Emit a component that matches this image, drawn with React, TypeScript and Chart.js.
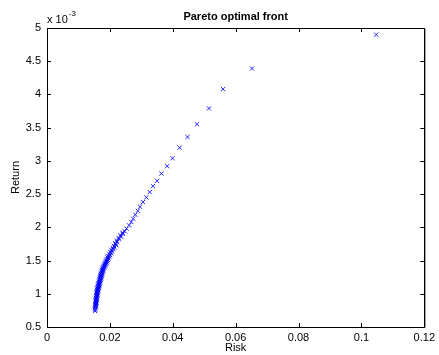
import React, { useEffect, useRef } from "react";
import { Chart, registerables } from "chart.js";

Chart.register(...registerables);

// Risk (x) and Return (y, in units of 1e-3)
const risk = [
  0.1047, 0.0652, 0.056, 0.0515, 0.0477, 0.0447, 0.0422, 0.0399, 0.0382, 0.0364,
  0.035, 0.0337, 0.0327, 0.0316, 0.0305, 0.0296, 0.0289, 0.0281, 0.0274, 0.0268,
  0.0261, 0.0253, 0.0247, 0.0241, 0.0235, 0.0229, 0.0223, 0.0218, 0.0213, 0.0209,
  0.0205, 0.0201, 0.0198, 0.0195, 0.0192, 0.019, 0.0188, 0.0186, 0.0184, 0.0182,
  0.018, 0.0178, 0.0177, 0.0175, 0.0174, 0.0172, 0.0171, 0.017, 0.0169, 0.0168,
  0.0167, 0.0166, 0.0165, 0.0164, 0.0163, 0.0162, 0.0161, 0.016, 0.0159, 0.0159,
  0.0158, 0.0158, 0.0157, 0.0157, 0.0156, 0.0156, 0.0155, 0.0155, 0.0155, 0.0154,
  0.0154, 0.0154, 0.0153, 0.0153, 0.0153,
];
const returnE3 = [
  4.9, 4.39, 4.08, 3.79, 3.55, 3.36, 3.2, 3.04, 2.92, 2.81,
  2.7, 2.62, 2.53, 2.45, 2.38, 2.31, 2.25, 2.19, 2.13, 2.08,
  2.03, 1.98, 1.94, 1.9, 1.86, 1.82, 1.78, 1.75, 1.72, 1.69,
  1.66, 1.63, 1.6, 1.57, 1.55, 1.52, 1.5, 1.48, 1.46, 1.44,
  1.42, 1.4, 1.38, 1.36, 1.34, 1.32, 1.3, 1.28, 1.26, 1.24,
  1.22, 1.2, 1.18, 1.16, 1.14, 1.12, 1.1, 1.08, 1.06, 1.04,
  1.02, 1.0, 0.98, 0.96, 0.94, 0.92, 0.9, 0.88, 0.86, 0.84,
  0.82, 0.8, 0.78, 0.76, 0.74,
];
// Additional points in the dense lower part of the front (slightly to the right)
const riskDense = [
  0.024, 0.0234, 0.0228, 0.0222, 0.0217, 0.022, 0.0215, 0.0211, 0.0207, 0.0204,
  0.0201, 0.0198, 0.0196, 0.0194, 0.0192, 0.019, 0.0188, 0.0186, 0.0184, 0.0182,
  0.018, 0.0179, 0.0177, 0.0176, 0.0175, 0.0174, 0.0173, 0.0172, 0.0171, 0.017,
  0.0169, 0.0168, 0.0167, 0.0166, 0.0165, 0.0164, 0.0163, 0.0162, 0.0161, 0.016,
  0.016, 0.0159, 0.0158, 0.0158, 0.0157, 0.0157, 0.0156, 0.0156, 0.0155,
];
const returnDenseE3 = [
  1.92, 1.88, 1.84, 1.8, 1.76, 1.73, 1.7, 1.67, 1.64, 1.61,
  1.58, 1.56, 1.53, 1.51, 1.49, 1.47, 1.45, 1.43, 1.41, 1.39,
  1.37, 1.35, 1.33, 1.31, 1.29, 1.27, 1.25, 1.23, 1.21, 1.19,
  1.17, 1.15, 1.13, 1.11, 1.09, 1.07, 1.05, 1.03, 1.01, 0.99,
  0.97, 0.95, 0.93, 0.91, 0.89, 0.87, 0.85, 0.83, 0.81,
];

const titleText = "Pareto optimal front";
const xTitle = "Risk";
const yTitle = "Return";
const exponentBase = "x 10";
const exponentPower = "-3";

const xMin = 0, xMax = 0.12, xStep = 0.02;
const yMin = 0.5, yMax = 5, yStep = 0.5;

const FONT = "'Liberation Sans', Arial, Helvetica, sans-serif";

const W = 439, H = 355;
const LEFT = 47, RIGHT = 427, TOP = 28, BOTTOM = 327;

const decorPlugin = {
  id: "matlabDecor",
  afterDraw(chart: any) {
    const ctx = chart.ctx;
    const ca = chart.chartArea;
    const xs = chart.scales.x;
    const ys = chart.scales.y;
    ctx.save();
    // box
    ctx.strokeStyle = "#000";
    ctx.lineWidth = 1;
    ctx.beginPath();
    ctx.rect(Math.round(ca.left) + 0.5, Math.round(ca.top) + 0.5, Math.round(ca.right - ca.left), Math.round(ca.bottom - ca.top));
    ctx.stroke();
    ctx.strokeStyle = "rgba(0,0,0,0.35)";
    ctx.beginPath();
    ctx.moveTo(Math.round(ca.right) + 1.5, ca.top + 1);
    ctx.lineTo(Math.round(ca.right) + 1.5, ca.bottom + 1);
    ctx.stroke();
    ctx.strokeStyle = "#000";
    // inward ticks
    const tl = 4;
    ctx.beginPath();
    xs.ticks.forEach((t: any) => {
      const px = Math.round(xs.getPixelForValue(t.value)) + 0.5;
      ctx.moveTo(px, ca.bottom);
      ctx.lineTo(px, ca.bottom - tl);
      ctx.moveTo(px, ca.top);
      ctx.lineTo(px, ca.top + tl);
    });
    ys.ticks.forEach((t: any) => {
      const py = Math.round(ys.getPixelForValue(t.value)) + 0.5;
      ctx.moveTo(ca.left, py);
      ctx.lineTo(ca.left + tl, py);
      ctx.moveTo(ca.right, py);
      ctx.lineTo(ca.right - tl, py);
    });
    ctx.stroke();
    ctx.fillStyle = "#000";
    // title
    ctx.font = `bold 11px ${FONT}`;
    ctx.textAlign = "center";
    ctx.textBaseline = "middle";
    ctx.fillText(titleText, (ca.left + ca.right) / 2, 17);
    // x axis title
    ctx.font = `11px ${FONT}`;
    ctx.fillText(xTitle, (ca.left + ca.right) / 2, 348);
    // y axis title
    ctx.save();
    ctx.translate(16, (ca.top + ca.bottom) / 2);
    ctx.rotate(-Math.PI / 2);
    ctx.fillText(yTitle, 0, 0);
    ctx.restore();
    // exponent
    ctx.textAlign = "left";
    ctx.textBaseline = "alphabetic";
    ctx.font = `11px ${FONT}`;
    ctx.fillText(exponentBase, 47, 23);
    const w = ctx.measureText(exponentBase).width;
    ctx.font = `8px ${FONT}`;
    ctx.fillText(exponentPower, 47 + w + 1, 16);
    ctx.restore();
  },
};

export default function App() {
  const ref = useRef<HTMLCanvasElement | null>(null);
  useEffect(() => {
    if (!ref.current) return;
    const data = risk
      .map((x, i) => ({ x, y: returnE3[i] }))
      .concat(riskDense.map((x, i) => ({ x, y: returnDenseE3[i] })));
    const chart = new Chart(ref.current, {
      type: "scatter",
      data: {
        datasets: [
          {
            data,
            pointStyle: "crossRot",
            pointRadius: 3,
            pointBorderWidth: 1,
            borderColor: "rgba(0,0,255,0.85)",
            backgroundColor: "rgba(0,0,255,0.85)",
          },
        ],
      },
      options: {
        responsive: false,
        animation: false,
        devicePixelRatio: 1,
        layout: { padding: { left: 0, right: W - RIGHT, top: TOP, bottom: 0 } },
        plugins: { legend: { display: false }, title: { display: false }, tooltip: { enabled: false } },
        scales: {
          x: {
            type: "linear",
            min: xMin,
            max: xMax,
            ticks: {
              stepSize: xStep,
              color: "#000",
              font: { family: FONT, size: 11 },
              padding: 4,
              maxRotation: 0,
              callback: (v: any) => String(Number(Number(v).toFixed(2))),
            },
            grid: { display: false, drawTicks: false },
            border: { display: false },
            afterFit: (s: any) => { s.height = H - BOTTOM; },
          },
          y: {
            type: "linear",
            min: yMin,
            max: yMax,
            ticks: {
              stepSize: yStep,
              color: "#000",
              font: { family: FONT, size: 11 },
              padding: 6,
              callback: (v: any) => String(Number(Number(v).toFixed(1))),
            },
            grid: { display: false, drawTicks: false },
            border: { display: false },
            afterFit: (s: any) => { s.width = LEFT; },
          },
        },
      },
      plugins: [decorPlugin],
    });
    return () => chart.destroy();
  }, []);
  return (
    <div style={{ position: "absolute", left: 0, top: 0, width: W, height: H, background: "#fff" }}>
      <canvas ref={ref} width={W} height={H} style={{ width: W, height: H, display: "block" }} />
    </div>
  );
}
